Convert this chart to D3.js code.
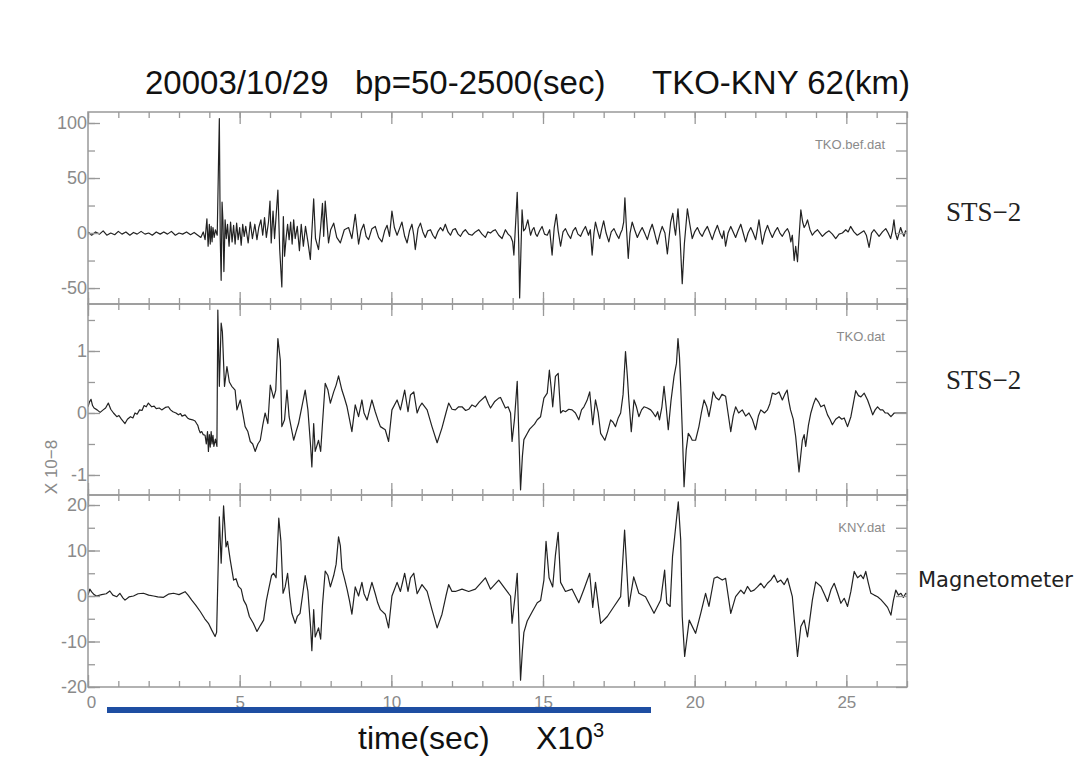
<!DOCTYPE html>
<html>
<head>
<meta charset="utf-8">
<script src="https://cdn.jsdelivr.net/npm/d3@7"></script>
<style>
  body { margin: 0; background: #fff; }
  svg { display: block; }
  .tick text { font-family: "Liberation Sans Narrow", "Liberation Sans", sans-serif; fill: #8a8a8a; }
</style>
</head>
<body>
<svg id="chart" width="1091" height="767"></svg>
<script>
// traces: [time (x10^3 sec), amplitude]
const tkoBef = [[0,1],[0.12,-2],[0.25,1],[0.38,-1],[0.5,2],[0.62,-2],[0.75,0],[0.88,-1.5],[1.0,1.5],[1.12,-1],[1.25,1],[1.38,-2],[1.5,0.5],[1.62,-1],[1.75,1.5],[1.88,-1],[2.0,0],[2.12,-2],[2.25,1],[2.38,-1],[2.5,1],[2.62,-1],[2.75,1.5],[2.88,-2],[3.0,0],[3.12,-1],[3.25,1],[3.38,-1.5],[3.5,0.5],[3.62,-2],[3.72,-4],[3.8,1],[3.86,-6],[3.92,13],[3.96,-12],[4.0,8],[4.03,-10],[4.06,6],[4.09,-8],[4.12,5],[4.16,-4],[4.2,3],[4.26,-2],[4.3,60],[4.33,104],[4.36,-5],[4.39,-43],[4.42,28],[4.45,10],[4.48,-35],[4.52,12],[4.56,-5],[4.6,8],[4.65,-12],[4.7,10],[4.75,-8],[4.8,7],[4.85,-10],[4.9,9],[4.95,-6],[5.0,5],[5.05,-11],[5.1,8],[5.15,-3],[5.2,6],[5.28,-9],[5.35,10],[5.42,-5],[5.5,8],[5.57,-6],[5.63,5],[5.7,12],[5.76,-2],[5.82,14],[5.88,-4],[5.95,10],[6.0,29],[6.04,-9],[6.1,20],[6.15,-5],[6.2,15],[6.26,39],[6.32,-15],[6.39,-49],[6.44,15],[6.48,-21],[6.53,-5],[6.58,8],[6.63,-6],[6.68,10],[6.73,-10],[6.78,12],[6.83,-5],[6.9,6],[6.97,-16],[7.03,8],[7.1,-12],[7.17,6],[7.25,-8],[7.33,-24],[7.44,31],[7.5,-5],[7.6,-15],[7.67,5],[7.73,27],[7.77,-3],[7.82,29],[7.93,-9],[8.0,3],[8.1,9],[8.2,-4],[8.32,-9],[8.45,3],[8.59,5],[8.7,-5],[8.81,17],[8.92,-10],[9.0,2],[9.09,8],[9.17,-3],[9.25,-6],[9.36,4],[9.47,6],[9.58,-4],[9.69,-8],[9.78,2],[9.86,7],[9.94,-3],[10.02,20],[10.1,5],[10.19,-2],[10.27,4],[10.35,10],[10.44,-3],[10.52,-9],[10.6,2],[10.68,8],[10.74,-2],[10.79,-15],[10.88,4],[10.96,9],[11.04,1],[11.12,-4],[11.2,2],[11.29,3],[11.37,-2],[11.45,-5],[11.53,1],[11.62,5],[11.7,2],[11.78,8],[11.87,1],[11.95,-2],[12.03,3],[12.11,4],[12.2,-1],[12.28,-3],[12.36,1],[12.44,3],[12.55,-1],[12.66,-2],[12.77,1],[12.88,3],[12.99,-1],[13.1,-4],[13.18,1],[13.27,0],[13.35,2],[13.43,3],[13.54,-2],[13.65,-5],[13.76,3],[13.85,-1],[13.93,-3],[14.0,-8],[14.04,-20],[14.1,10],[14.15,37],[14.2,-10],[14.23,-59],[14.31,21],[14.36,2],[14.42,4],[14.5,12],[14.59,-2],[14.65,3],[14.7,5],[14.76,-1],[14.81,-3],[14.89,2],[14.97,6],[15.05,-1],[15.14,-2],[15.22,3],[15.3,-20],[15.37,5],[15.44,17],[15.5,2],[15.58,-12],[15.66,1],[15.74,4],[15.82,-1],[15.91,-5],[15.99,2],[16.07,5],[16.15,-1],[16.24,-3],[16.32,2],[16.4,6],[16.5,-2],[16.56,3],[16.62,-20],[16.68,0],[16.73,10],[16.8,2],[16.87,-5],[16.93,3],[17.0,11],[17.08,0],[17.17,-8],[17.25,1],[17.34,4],[17.42,-1],[17.5,-5],[17.56,0],[17.61,3],[17.66,10],[17.7,32],[17.75,5],[17.81,-23],[17.87,0],[17.94,10],[18.02,3],[18.11,-4],[18.19,1],[18.27,5],[18.35,0],[18.44,-6],[18.52,2],[18.6,8],[18.68,0],[18.77,-10],[18.85,-1],[18.93,6],[19.02,0],[19.1,-19],[19.16,-3],[19.21,10],[19.28,18],[19.33,5],[19.37,-2],[19.45,22],[19.52,-5],[19.59,-46],[19.66,-10],[19.76,22],[19.84,8],[19.92,-5],[20.0,1],[20.09,5],[20.17,0],[20.25,-3],[20.33,2],[20.42,6],[20.5,0],[20.58,-6],[20.66,1],[20.75,7],[20.83,0],[20.91,-5],[20.96,2],[21.02,-12],[21.1,0],[21.19,6],[21.27,1],[21.35,-4],[21.43,2],[21.52,8],[21.6,0],[21.68,-8],[21.76,0],[21.85,5],[21.93,0],[22.01,-6],[22.06,2],[22.12,12],[22.17,2],[22.23,-10],[22.31,0],[22.4,7],[22.48,1],[22.56,-4],[22.64,1],[22.73,5],[22.81,0],[22.89,-3],[22.97,1],[23.06,4],[23.12,0],[23.17,-8],[23.22,-2],[23.28,-25],[23.33,-12],[23.39,-26],[23.45,0],[23.5,21],[23.56,10],[23.61,5],[23.67,8],[23.72,12],[23.8,3],[23.88,-2],[23.96,1],[24.05,3],[24.13,0],[24.21,-3],[24.32,0],[24.43,2],[24.54,-1],[24.65,-5],[24.76,-1],[24.87,0],[24.98,3],[25.06,1],[25.14,6],[25.25,1],[25.36,-2],[25.47,0],[25.58,2],[25.66,-2],[25.75,-13],[25.83,0],[25.91,3],[26.0,0],[26.08,-3],[26.19,1],[26.3,4],[26.38,0],[26.46,-5],[26.52,2],[26.57,12],[26.62,0],[26.68,-6],[26.74,0],[26.79,5],[26.85,0],[26.9,-3],[26.95,2],[27.0,1]];

const tko = [[0,0.10],[0.05,0.18],[0.1,0.22],[0.15,0.12],[0.2,0.08],[0.3,0.05],[0.4,0.01],[0.5,0.05],[0.58,0.08],[0.67,0.16],[0.75,0.06],[0.84,0.0],[0.95,-0.06],[1.02,-0.04],[1.1,-0.1],[1.22,-0.17],[1.3,-0.1],[1.4,-0.06],[1.48,-0.08],[1.55,0.0],[1.62,-0.02],[1.7,0.05],[1.78,0.04],[1.85,0.12],[1.92,0.1],[1.99,0.16],[2.1,0.1],[2.18,0.11],[2.25,0.07],[2.35,0.08],[2.43,0.05],[2.55,0.09],[2.65,0.1],[2.72,0.05],[2.8,0.02],[2.9,0.0],[2.98,-0.03],[3.05,-0.01],[3.1,-0.05],[3.2,-0.03],[3.28,-0.08],[3.35,-0.1],[3.45,-0.11],[3.53,-0.13],[3.58,-0.17],[3.62,-0.2],[3.66,-0.27],[3.7,-0.32],[3.75,-0.3],[3.8,-0.35],[3.86,-0.36],[3.9,-0.5],[3.94,-0.3],[3.97,-0.62],[4.0,-0.35],[4.03,-0.55],[4.06,-0.3],[4.09,-0.5],[4.12,-0.36],[4.15,-0.54],[4.2,-0.42],[4.25,-0.54],[4.28,1.66],[4.33,0.43],[4.39,1.45],[4.43,1.31],[4.5,0.43],[4.58,0.75],[4.66,0.5],[4.74,0.43],[4.85,0.37],[4.91,0.05],[5.02,0.21],[5.1,0.0],[5.18,-0.22],[5.27,-0.3],[5.35,-0.46],[5.43,-0.5],[5.51,-0.62],[5.6,-0.5],[5.68,-0.44],[5.76,-0.2],[5.84,0.0],[5.93,-0.17],[6.01,0.45],[6.12,0.24],[6.19,0.37],[6.26,1.20],[6.34,0.85],[6.39,-0.22],[6.48,-0.11],[6.56,0.37],[6.63,-0.06],[6.78,-0.44],[6.86,-0.3],[6.94,-0.17],[7.05,0.1],[7.16,0.37],[7.25,0.05],[7.34,-0.54],[7.38,-0.87],[7.44,-0.17],[7.49,-0.62],[7.6,-0.44],[7.67,-0.62],[7.73,-0.17],[7.82,0.48],[7.91,0.37],[7.99,0.16],[8.1,0.34],[8.18,0.45],[8.26,0.60],[8.37,0.37],[8.45,0.25],[8.54,0.10],[8.62,-0.1],[8.7,-0.3],[8.81,0.13],[8.92,-0.06],[9.03,0.21],[9.1,0.0],[9.2,-0.11],[9.36,0.21],[9.47,0.02],[9.55,-0.1],[9.64,-0.22],[9.8,-0.27],[9.91,-0.46],[10.02,0.05],[10.19,0.21],[10.3,0.05],[10.44,0.37],[10.55,0.02],[10.63,0.29],[10.74,0.34],[10.85,0.0],[10.93,0.1],[11.01,0.16],[11.18,0.05],[11.34,-0.22],[11.51,-0.48],[11.67,-0.24],[11.8,0.0],[11.89,0.16],[12.0,0.06],[12.11,0.05],[12.22,0.1],[12.33,0.1],[12.45,0.04],[12.55,0.06],[12.66,0.13],[12.77,0.1],[12.9,0.18],[13.1,0.27],[13.2,0.15],[13.27,0.08],[13.4,0.18],[13.54,0.24],[13.6,0.25],[13.76,0.08],[13.85,0.1],[13.93,0.0],[13.98,-0.46],[14.06,-0.1],[14.15,0.51],[14.2,-0.3],[14.26,-1.24],[14.32,-0.7],[14.37,-0.43],[14.48,-0.33],[14.56,-0.26],[14.64,-0.22],[14.72,-0.18],[14.81,-0.11],[14.92,-0.06],[15.03,0.24],[15.14,0.32],[15.21,0.69],[15.27,0.4],[15.32,0.1],[15.41,0.59],[15.5,0.64],[15.58,0.0],[15.66,0.04],[15.74,0.02],[15.85,0.06],[15.96,0.05],[16.07,0.0],[16.18,-0.11],[16.27,0.05],[16.35,0.1],[16.45,0.2],[16.54,0.34],[16.64,-0.19],[16.73,0.21],[16.82,0.0],[16.9,-0.33],[17.04,-0.44],[17.13,-0.3],[17.23,-0.11],[17.31,-0.15],[17.39,-0.22],[17.48,-0.08],[17.56,0.0],[17.64,0.3],[17.72,0.99],[17.78,0.6],[17.83,0.21],[17.91,-0.30],[18.0,0.21],[18.08,0.1],[18.16,-0.06],[18.25,0.05],[18.33,0.1],[18.44,0.08],[18.55,0.05],[18.63,0.0],[18.71,-0.06],[18.78,0.02],[18.84,-0.11],[18.92,0.1],[18.99,0.43],[19.06,0.1],[19.13,-0.27],[19.22,0.2],[19.32,0.59],[19.4,0.8],[19.45,1.20],[19.5,0.9],[19.54,0.43],[19.6,-0.4],[19.65,-1.19],[19.72,-0.6],[19.79,-0.33],[19.86,-0.38],[19.92,-0.44],[20.03,-0.44],[20.14,-0.22],[20.22,0.0],[20.31,0.21],[20.4,0.1],[20.47,-0.06],[20.55,0.15],[20.61,0.34],[20.7,0.25],[20.8,0.21],[20.9,0.3],[21.02,0.27],[21.1,0.0],[21.19,-0.3],[21.27,-0.05],[21.35,0.1],[21.45,0.0],[21.57,0.05],[21.68,-0.05],[21.79,0.0],[21.9,-0.1],[22.01,-0.27],[22.1,-0.05],[22.18,0.05],[22.3,0.0],[22.4,0.05],[22.48,0.15],[22.56,0.32],[22.67,0.3],[22.78,0.34],[22.89,0.21],[22.97,0.3],[23.05,0.37],[23.1,0.2],[23.16,0.05],[23.25,-0.1],[23.33,-0.38],[23.44,-0.95],[23.55,-0.44],[23.61,-0.35],[23.66,-0.54],[23.75,-0.2],[23.83,0.0],[23.92,0.15],[23.99,0.24],[24.08,0.18],[24.16,0.1],[24.27,0.13],[24.38,-0.03],[24.46,-0.1],[24.54,-0.19],[24.65,-0.1],[24.76,-0.06],[24.85,-0.1],[24.93,-0.08],[25.04,-0.22],[25.15,-0.06],[25.23,0.15],[25.31,0.36],[25.4,0.28],[25.48,0.26],[25.59,0.32],[25.7,0.21],[25.78,0.1],[25.87,-0.03],[25.95,0.05],[26.03,0.1],[26.12,0.05],[26.2,0.05],[26.28,0.0],[26.36,0.0],[26.47,-0.06],[26.58,0.0],[26.7,0.0],[27,0.0]];

const kny = [[0,0.2],[0.06,1.5],[0.12,0.9],[0.2,0.3],[0.28,0],[0.45,0.3],[0.6,0.5],[0.72,1.1],[0.82,0.2],[0.95,-0.15],[1.05,0.6],[1.15,-0.4],[1.22,-0.9],[1.35,-0.2],[1.5,0],[1.65,0.5],[1.83,0.6],[2.0,0.2],[2.16,0],[2.3,-0.2],[2.49,-0.3],[2.65,0.4],[2.82,0.6],[3.0,0.3],[3.2,0.95],[3.3,0.2],[3.42,-0.9],[3.55,-2],[3.7,-3.4],[3.85,-5],[3.97,-6],[4.08,-7.5],[4.19,-8.9],[4.24,-8],[4.33,17.4],[4.39,7.2],[4.47,19.8],[4.55,10.8],[4.6,12],[4.69,7.9],[4.8,3.5],[4.88,3.8],[4.96,2.1],[5.05,1.5],[5.13,-0.9],[5.22,-2],[5.32,-4.5],[5.45,-6],[5.57,-7.8],[5.68,-6.5],[5.79,-5.3],[5.88,-1],[5.95,1.3],[6.05,4.5],[6.12,5.0],[6.2,4.0],[6.29,17.1],[6.36,12],[6.43,0.6],[6.5,2],[6.58,5.0],[6.65,0],[6.72,-3.8],[6.83,-6.0],[6.9,-4.5],[6.99,-3.8],[7.08,0.5],[7.16,4.5],[7.25,1],[7.34,-7],[7.38,-12],[7.44,-3],[7.49,-9],[7.6,-7],[7.67,-9.5],[7.73,-2],[7.82,5.5],[7.91,4.5],[7.99,2],[8.1,4.5],[8.18,7],[8.26,13],[8.32,11],[8.37,6],[8.45,4],[8.54,1.5],[8.62,-1],[8.7,-4],[8.81,2],[8.92,0],[9.03,3],[9.1,0.5],[9.2,-1],[9.36,3],[9.47,0.5],[9.55,-1.5],[9.64,-3],[9.8,-4],[9.91,-7],[10.02,0],[10.19,3],[10.3,1],[10.44,5],[10.55,1],[10.63,4],[10.74,5],[10.85,0.5],[11.01,2.5],[11.18,1],[11.34,-3],[11.51,-7],[11.67,-4],[11.8,0],[11.89,2.5],[12.0,1],[12.11,1],[12.33,1.5],[12.55,1],[12.77,1.5],[13.1,4],[13.27,1.5],[13.54,3.5],[13.76,1.5],[13.93,0],[13.98,-6],[14.08,0],[14.15,5],[14.2,-5],[14.26,-18.5],[14.32,-12],[14.37,-8],[14.48,-5.5],[14.64,-3.5],[14.81,-1.5],[14.92,-1],[15.03,3.5],[15.1,12],[15.2,4],[15.32,2],[15.41,9],[15.5,14],[15.58,3],[15.74,1],[15.96,1.5],[16.18,-1.5],[16.35,1.5],[16.54,5],[16.64,-2.5],[16.73,3],[16.9,-6],[17.12,-4.5],[17.34,-2.3],[17.56,-0.15],[17.69,14.5],[17.83,-2.3],[17.99,4.2],[18.16,0.6],[18.38,-0.15],[18.66,-3.8],[18.88,-0.9],[19.01,5.7],[19.08,-1.6],[19.19,-2.3],[19.27,8.7],[19.34,13.0],[19.46,20.7],[19.54,12.3],[19.59,-4.5],[19.67,-13.3],[19.82,-5.3],[20.03,-8.2],[20.2,-3.8],[20.36,0.6],[20.47,-2.3],[20.64,3.9],[20.75,4.2],[20.91,3.5],[21.02,3.9],[21.19,-3.8],[21.35,-0.15],[21.52,1.3],[21.63,0.5],[21.74,2.1],[21.85,1.0],[21.96,1.3],[22.07,2.0],[22.18,2.8],[22.29,1.8],[22.4,2.8],[22.51,3.5],[22.62,4.6],[22.73,3.0],[22.84,3.5],[22.95,2.5],[23.06,3.9],[23.22,-0.15],[23.39,-13.3],[23.5,-6.7],[23.61,-5.3],[23.72,-9.0],[23.88,-0.9],[23.99,3.1],[24.16,2.1],[24.27,0.5],[24.38,-1.2],[24.5,1.5],[24.6,2.8],[24.72,0.5],[24.82,-1.6],[24.93,-0.5],[25.04,-2.3],[25.15,1.0],[25.26,5.4],[25.37,4.0],[25.48,4.6],[25.56,3.8],[25.64,5.4],[25.72,3.0],[25.81,0.6],[25.92,0.2],[26.03,-0.15],[26.14,-0.8],[26.25,-1.6],[26.36,-2.5],[26.47,-4.2],[26.55,-1.0],[26.63,1.3],[26.72,0.2],[26.8,0.6],[26.88,-0.3],[26.96,0.6],[27,0.4]];

const xTicksMajor = [0, 5, 10, 15, 20, 25];
const xTicksMinor = d3.range(0, 28, 1);
const panelNames = ["TKO.bef.dat", "TKO.dat", "KNY.dat"];
const sideLabels = ["STS\u22122", "STS\u22122", "Magnetometer"];

const svg = d3.select("#chart");
const left = 88, right = 907;
const x = d3.scaleLinear().domain([0, 27]).range([left, right]);

const panels = [
  { data: tkoBef, domain: [-64.5, 110], top: 112, bottom: 304,
    major: [-50, 0, 50, 100], minor: [-50, -25, 0, 25, 50, 75, 100] },
  { data: tko, domain: [-1.323, 1.758], top: 304, bottom: 495,
    major: [-1, 0, 1], minor: [-1, -0.5, 0, 0.5, 1, 1.5] },
  { data: kny, domain: [-20, 22.2], top: 495, bottom: 687,
    major: [-20, -10, 0, 10, 20], minor: [-20, -15, -10, -5, 0, 5, 10, 15, 20] }
];

panels.forEach(function(p, i) {
  const y = d3.scaleLinear().domain(p.domain).range([p.bottom, p.top]);
  const g = svg.append("g");

  g.append("clipPath").attr("id", "clip" + i)
    .append("rect")
    .attr("x", left).attr("y", p.top)
    .attr("width", right - left).attr("height", p.bottom - p.top);

  const line = d3.line()
    .x(function(d) { return x(d[0]); })
    .y(function(d) { return y(d[1]); });

  g.append("path")
    .datum(p.data)
    .attr("clip-path", "url(#clip" + i + ")")
    .attr("fill", "none")
    .attr("stroke", "#222")
    .attr("stroke-width", 1.2)
    .attr("stroke-linejoin", "round")
    .attr("d", line);

  // inward ticks on all four sides
  function ax(axis, tx, ty) {
    const a = g.append("g").attr("transform", "translate(" + tx + "," + ty + ")").call(axis);
    a.select(".domain").remove();
    a.selectAll("line").attr("stroke", "#999").attr("stroke-width", 1.3);
    return a;
  }
  ax(d3.axisLeft(y).tickValues(p.minor).tickSize(-7).tickFormat(""), left, 0);
  const yl = ax(d3.axisLeft(y).tickValues(p.major).tickSize(-12).tickPadding(1)
    .tickFormat(function(d) { return d; }), left, 0);
  yl.selectAll("text").style("font-size", "18px");
  ax(d3.axisRight(y).tickValues(p.minor).tickSize(-11).tickFormat(""), right, 0);
  ax(d3.axisTop(x).tickValues(xTicksMinor).tickSize(-6).tickFormat(""), 0, p.top);
  ax(d3.axisTop(x).tickValues(xTicksMajor).tickSize(-12).tickFormat(""), 0, p.top);
  ax(d3.axisBottom(x).tickValues(xTicksMinor).tickSize(-6).tickFormat(""), 0, p.bottom);
  const xb = ax(d3.axisBottom(x).tickValues(xTicksMajor).tickSize(-12).tickPadding(9)
    .tickFormat(i === 2 ? d3.format("d") : ""), 0, p.bottom);
  xb.selectAll("text").style("font-size", "17px");
  // nudge the x "0" clear of the "-20" label, as in the reference it sits just right of the axis
  xb.selectAll(".tick").filter(function(d) { return d === 0; }).select("text").attr("dx", 3);

  g.append("rect")
    .attr("x", left).attr("y", p.top)
    .attr("width", right - left).attr("height", p.bottom - p.top)
    .attr("fill", "none").attr("stroke", "#999").attr("stroke-width", 1.5);

  g.append("text")
    .attr("x", 885).attr("y", p.top + 37)
    .attr("text-anchor", "end")
    .style("font-family", "'Liberation Sans', sans-serif")
    .style("font-size", "13px")
    .attr("fill", "#8a8a8a")
    .text(panelNames[i]);
});

// right-hand instrument labels
svg.append("text").attr("x", 946).attr("y", 221)
  .style("font-family", "'Liberation Serif', serif").style("font-size", "27px")
  .attr("fill", "#222").text(sideLabels[0]);
svg.append("text").attr("x", 946).attr("y", 389)
  .style("font-family", "'Liberation Serif', serif").style("font-size", "27px")
  .attr("fill", "#222").text(sideLabels[1]);
svg.append("text").attr("x", 918).attr("y", 587)
  .style("font-family", "'DejaVu Sans', sans-serif").style("font-size", "21px")
  .attr("fill", "#222").text(sideLabels[2]);

// y unit label
svg.append("text")
  .attr("transform", "translate(57,467) rotate(-90)")
  .attr("text-anchor", "middle")
  .style("font-family", "'Liberation Sans Narrow', 'Liberation Sans', sans-serif")
  .style("font-size", "17px")
  .attr("fill", "#8a8a8a")
  .text("X 10\u22128");

// title
const titleFont = "'Liberation Sans', Arial, sans-serif";
[["20003/10/29", 145], ["bp=50-2500(sec)", 355], ["TKO-KNY 62(km)", 652]].forEach(function(t) {
  svg.append("text").attr("x", t[1]).attr("y", 94)
    .style("font-family", titleFont).style("font-size", "33px")
    .attr("fill", "#111").text(t[0]);
});

// time-window bar
svg.append("rect").attr("x", 107).attr("y", 707).attr("width", 544).attr("height", 6)
  .attr("fill", "#1e4ea2");

// x axis title
svg.append("text").attr("x", 358).attr("y", 749)
  .style("font-family", titleFont).style("font-size", "32px")
  .attr("fill", "#111").text("time(sec)");
const xt = svg.append("text").attr("x", 536).attr("y", 749)
  .style("font-family", titleFont).style("font-size", "32px").attr("fill", "#111");
xt.append("tspan").text("X10");
xt.append("tspan").attr("dy", -12).style("font-size", "20px").text("3");
</script>
</body>
</html>
